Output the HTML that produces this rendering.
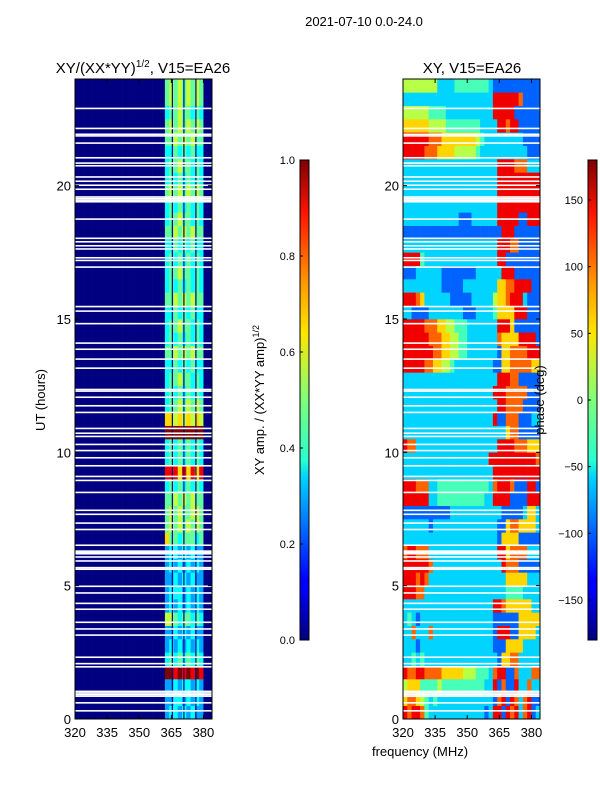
<!DOCTYPE html>
<html><head><meta charset="utf-8">
<style>
body{margin:0;background:#fff;font-family:"Liberation Sans",sans-serif;}
svg text{font-family:"Liberation Sans",sans-serif;fill:#000;}
</style></head>
<body>
<svg id="fig" width="600" height="800" xmlns="http://www.w3.org/2000/svg">
<defs>
<linearGradient id="jetv" x1="0" y1="1" x2="0" y2="0">
<stop offset="0" stop-color="#00007f"/><stop offset="0.11" stop-color="#0000ff"/>
<stop offset="0.125" stop-color="#0000ff"/><stop offset="0.34" stop-color="#00d4ff"/>
<stop offset="0.375" stop-color="#29ffce"/><stop offset="0.5" stop-color="#7dff7a"/>
<stop offset="0.64" stop-color="#ffe600"/><stop offset="0.75" stop-color="#ff9400"/>
<stop offset="0.89" stop-color="#ff1300"/><stop offset="1" stop-color="#7f0000"/>
</linearGradient>
</defs>
<text x="364" y="26" font-size="13" text-anchor="middle">2021-07-10 0.0-24.0</text>
<text x="143" y="73" font-size="15" text-anchor="middle">XY/(XX*YY)<tspan font-size="10" dy="-6">1/2</tspan><tspan dy="6">, V15=EA26</tspan></text>
<text x="472" y="73" font-size="15" text-anchor="middle">XY, V15=EA26</text>
<g id="left-plot"></g>
<g id="right-plot"></g>
<text transform="translate(45,400) rotate(-90)" font-size="13" text-anchor="middle">UT (hours)</text>
<text x="420" y="756" font-size="13" text-anchor="middle">frequency (MHz)</text>
<g>
<rect x="300" y="160" width="9" height="480" fill="url(#jetv)" stroke="#000" stroke-width="1"/>
</g>
<g>
<rect x="588" y="160" width="9" height="480" fill="url(#jetv)" stroke="#000" stroke-width="1"/>
</g>
<text transform="translate(264,400) rotate(-90)" font-size="13" text-anchor="middle">XY amp. / (XX*YY amp)<tspan font-size="9" dy="-5">1/2</tspan></text>
<text transform="translate(544,400) rotate(-90)" font-size="13" text-anchor="middle">phase (deg)</text>
<g id="cbticks"></g>
</svg>
<script>
const freqRange = [320, 384];
const utRange = [0, 24];
const xTicks = [320, 335, 350, 365, 380];
const yTicks = [0, 5, 10, 15, 20];
const ampTicks = [0.0, 0.2, 0.4, 0.6, 0.8, 1.0];
const phaseTicks = [-150, -100, -50, 0, 50, 100, 150];
const nCols = 32; // 2 MHz channels
const nRows = 48; // 0.5 h integrations
const ampBandRows = [
"34434343300","33443434300","33434434300","99898989800","45454545400","34343434300",
"33434343300","66545545400","34343434300","34443434300","33434343300","34343434300",
"34434343300","75545554500","56565656500","56565566500","55656565500","45454545400",
"88878787800","45454545400","45454545400","99999999900","77676767600","45565656500",
"45454545400","45565545400","44545454400","55656565500","45454545400","45565545400",
"44545454400","55656565500","45454545400","45565545400","45454545400","44545454400",
"55656565500","45565545400","45454545400","56565656500","45454545400","45565545400",
"44545454400","55656565500","56565656500","45565545400","56565656500","56565656500"];
const ampBackground = "000000000000000000000";
const phaseRows = [
"87887433333333333332388287837823","67765434333333333333327828737822","56664444544444444443382722833733",
"87788777766666555444378822733377","33434333333333333333332667733333","33323333333333333333322266663333",
"33733373333333333333328882266663","34323333333333333333322222266666","33333333333333333333388766666633",
"88877333333333333333333344443333","88878733333333333333333366666333","88888873333333333333333877722222",
"78877733333333333333338867777333","33333333333333333333332666622222","33333323333333333333332267766663",
"22222222222333333333333222223663","88888833444444444443388882222888","88877733444444444444378887222882",
"33333333333333333333388888888888","33333333333333333333888888888887","87733333333333333333338888777666",
"33333333333333333333333367722222","33333333333333333333382277722233","33333333333333333333338877772222",
"33333333333333333333388877777222","33333333333333333333338887722222","88888776655433333333322667777766",
"88888887766554433333332667777888","88888877766554433333337666688882","88888777665544433333338886222222",
"33222233333333222333346666888222","88876333333222223333356678883222","33333333322222333333336677888822",
"22233333322222222333333888222222","88884333333333333333338822222222","33333333333333333333338887722222",
"22222222222222222222222888222222","33333333333332223333338888822888","33333333333333333333338888888888",
"33333333333333333333338888888888","33333333333333333333338888888888","33333333333333333333338888777333",
"88888777666655555433333333333222","88888877766666666543333333332222","66666655554444444433338878822222",
"55555544443333333333388888222222","33333333333333333333388888872222","55555555333344444444322222222222"];
const channelGapsMHz = [365.2, 370.6, 376.2];
const flaggedUT = [0.31,0.61,0.86,0.92,0.98,1.04,1.96,2.08,2.32,3.15,3.38,3.63,4.12,4.34,4.73,4.98,5.62,5.68,5.93,6.08,6.2,6.25,6.3,6.52,7.11,7.35,7.68,7.83,8.5,8.95,9.1,9.5,9.8,10.07,10.3,10.6,10.72,10.9,11.5,11.75,12.07,12.3,12.36,13.16,13.5,13.87,14.1,14.83,15.3,15.47,16.95,17.2,17.3,17.63,17.75,17.9,18.03,18.75,19.4,19.46,19.52,19.58,19.87,20.02,20.17,20.33,20.75,20.85,21.05,21.6,21.87,21.93,22.15,22.9];

function jet(x){x=Math.max(0,Math.min(1,x));
 const c=v=>Math.round(255*Math.max(0,Math.min(1,v)));
 return `rgb(${c(1.5-Math.abs(4*x-3))},${c(1.5-Math.abs(4*x-2))},${c(1.5-Math.abs(4*x-1))})`;}
const NS="http://www.w3.org/2000/svg";
function el(tag,attrs,parent){const e=document.createElementNS(NS,tag);for(const k in attrs)e.setAttribute(k,attrs[k]);parent.appendChild(e);return e;}

function drawPanel(g,x0,getVal,name){
 const W=137,y0=719,H=640;
 const xs=f=>x0+(f-freqRange[0])/(freqRange[1]-freqRange[0])*W;
 const ys=u=>y0-(u-utRange[0])/(utRange[1]-utRange[0])*H;
 const cw=(freqRange[1]-freqRange[0])/nCols, rh=(utRange[1]-utRange[0])/nRows;
 for(let r=0;r<nRows;r++)for(let c=0;c<nCols;c++){
  const f=freqRange[0]+c*cw,u=r*rh;
  const rc=el('rect',{x:xs(f),y:ys(u+rh),width:xs(f+cw)-xs(f)+0.3,height:ys(u)-ys(u+rh)+0.3,fill:jet(getVal(r,c))},g);
  
  
 }
 if(name==='amp'){channelGapsMHz.forEach(f=>{
  const l=el('rect',{x:xs(f),y:ys(24),width:1.2,height:H,fill:'#000090'},g);
  
  
 });}
 flaggedUT.forEach(u=>{
  const fr=el('rect',{x:x0,y:ys(u)-0.7,width:W,height:1.6,fill:'#fff'},g);
  
  
 });
 el('rect',{x:x0,y:79,width:W,height:H,fill:'none',stroke:'#000','stroke-width':1},g);
 xTicks.forEach(t=>{const x=xs(t);
  el('line',{x1:x,x2:x,y1:y0,y2:y0-4,stroke:'#000'},g);
  el('line',{x1:x,x2:x,y1:79,y2:83,stroke:'#000'},g);
  const tx=el('text',{x:x,y:737,'font-size':13,'text-anchor':'middle'},g);tx.textContent=t;
  
  
 });
 yTicks.forEach(t=>{const y=ys(t);
  el('line',{x1:x0,x2:x0+4,y1:y,y2:y,stroke:'#000'},g);
  el('line',{x1:x0+W,x2:x0+W-4,y1:y,y2:y,stroke:'#000'},g);
  const tx=el('text',{x:x0-4,y:y+5,'font-size':13,'text-anchor':'end'},g);tx.textContent=t;
  
  
 });
}
drawPanel(document.getElementById('left-plot'),75,(r,c)=>{
 const s=ampBackground+ampBandRows[r];const d=+s[c];return d>=8?d/9:d/9*0.85;},'amp');
drawPanel(document.getElementById('right-plot'),403,(r,c)=>(+phaseRows[r][c])/9,'phase');

const cb=document.getElementById('cbticks');
ampTicks.forEach(v=>{const y=640-v*480;
 el('line',{x1:300,x2:303,y1:y,y2:y,stroke:'#000'},cb);
 const t=el('text',{x:295,y:y+4,'font-size':11,'text-anchor':'end'},cb);t.textContent=v.toFixed(1);
 
 
});
phaseTicks.forEach(v=>{const y=400-v/180*240;
 el('line',{x1:588,x2:591,y1:y,y2:y,stroke:'#000'},cb);
 const t=el('text',{x:583,y:y+4,'font-size':11,'text-anchor':'end'},cb);t.textContent=v<0?'\u2212'+(-v):v;
 
 
});
</script>
</body></html>
